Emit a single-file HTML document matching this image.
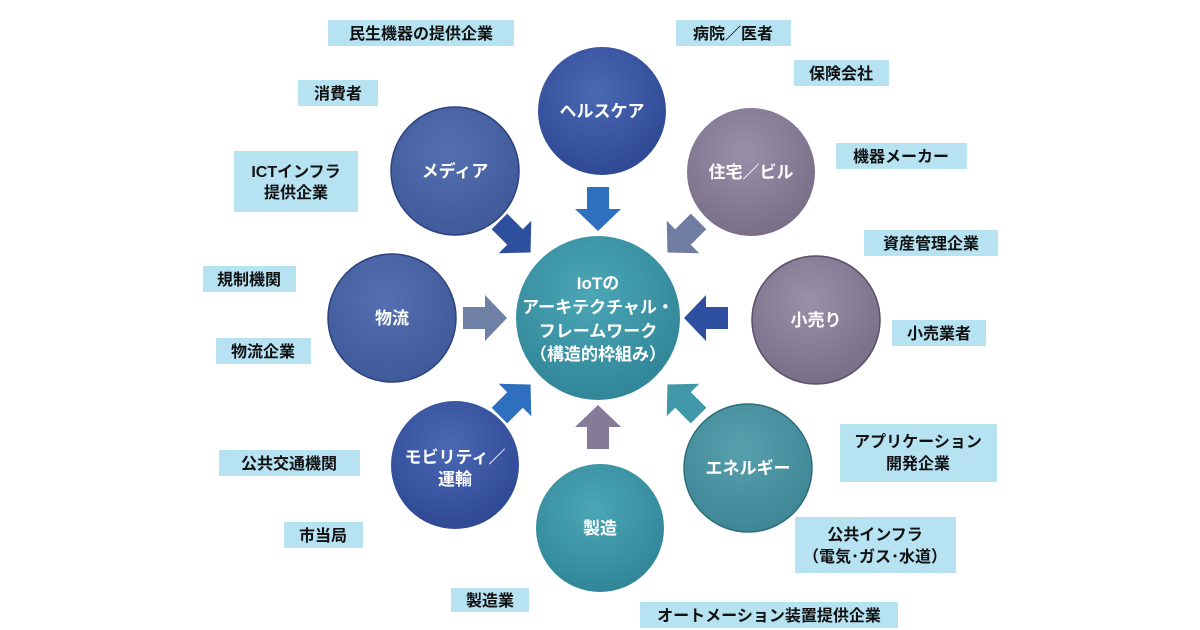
<!DOCTYPE html>
<html><head><meta charset="utf-8"><style>
html,body{margin:0;padding:0;background:#fff;}
svg{display:block;}
text{font-family:"Liberation Sans","Noto Sans CJK JP",sans-serif;font-weight:bold;}
.c{fill:#fff;font-size:17px;text-anchor:middle;}
.l{fill:#111;font-size:16px;text-anchor:middle;}
.b{fill:#b6e2f2;}
</style></head><body>
<svg width="1200" height="630" viewBox="0 0 1200 630">
<defs>
<radialGradient id="gB" cx="45%" cy="35%" r="70%"><stop offset="0" stop-color="#4a68b4"/><stop offset="1" stop-color="#2d4792"/></radialGradient>
<radialGradient id="gM" cx="45%" cy="35%" r="70%"><stop offset="0" stop-color="#5470b0"/><stop offset="1" stop-color="#3e5898"/></radialGradient>
<radialGradient id="gP" cx="45%" cy="35%" r="70%"><stop offset="0" stop-color="#9a90aa"/><stop offset="1" stop-color="#766c86"/></radialGradient>
<radialGradient id="gT" cx="45%" cy="35%" r="70%"><stop offset="0" stop-color="#4ba6b6"/><stop offset="1" stop-color="#2f8496"/></radialGradient>
<radialGradient id="gE" cx="45%" cy="35%" r="70%"><stop offset="0" stop-color="#58a0ae"/><stop offset="1" stop-color="#3d8594"/></radialGradient>
<path id="ar" d="M-11,-22 L11,-22 L11,0 L23,0 L0,22 L-23,0 L-11,0 Z"/>
</defs>
<circle cx="602" cy="111" r="64" fill="url(#gB)"/>
<circle cx="455" cy="171" r="64" fill="url(#gM)" stroke="#2d4280" stroke-width="1.5"/>
<circle cx="751" cy="172" r="64" fill="url(#gP)"/>
<circle cx="392" cy="318" r="64" fill="url(#gM)" stroke="#2d4280" stroke-width="1.5"/>
<circle cx="816" cy="320" r="64" fill="url(#gP)" stroke="#5a5068" stroke-width="1.5"/>
<circle cx="455" cy="465" r="64" fill="url(#gB)"/>
<circle cx="600" cy="528" r="64" fill="url(#gT)"/>
<circle cx="748" cy="468" r="64" fill="url(#gE)" stroke="#2e6e7a" stroke-width="1.5"/>
<circle cx="598" cy="318" r="82" fill="url(#gT)"/>
<use href="#ar" transform="translate(598,209)" fill="#2f6fc0"/>
<use href="#ar" transform="translate(598,427) rotate(180)" fill="#857a98"/>
<use href="#ar" transform="translate(485,318) rotate(-90)" fill="#6e80a6"/>
<use href="#ar" transform="translate(706,318) rotate(90)" fill="#2e4fa0"/>
<use href="#ar" transform="translate(515,237) rotate(-45)" fill="#2e4f9e"/>
<use href="#ar" transform="translate(683,237) rotate(45)" fill="#6f7ea0"/>
<use href="#ar" transform="translate(515,400) rotate(-135)" fill="#2f6fc0"/>
<use href="#ar" transform="translate(683,400) rotate(135)" fill="#3f97a8"/>
<text class="c" x="602" y="117">ヘルスケア</text>
<text class="c" x="455" y="177">メディア</text>
<text class="c" x="751" y="178">住宅／ビル</text>
<text class="c" x="392" y="324">物流</text>
<text class="c" x="816" y="326">小売り</text>
<text class="c" x="455" y="463">モビリティ／</text>
<text class="c" x="455" y="485">運輸</text>
<text class="c" x="600" y="534">製造</text>
<text class="c" x="748" y="474">エネルギー</text>
<text class="c" x="598" y="289" font-size="18">IoTの</text>
<text class="c" x="598" y="313" font-size="18">アーキテクチャル・</text>
<text class="c" x="598" y="337" font-size="18">フレームワーク</text>
<text class="c" x="598" y="360" font-size="18">（構造的枠組み）</text>
<rect class="b" x="328" y="20" width="186" height="26"/><text class="l" x="421" y="39">民生機器の提供企業</text>
<rect class="b" x="676" y="20" width="115" height="26"/><text class="l" x="733" y="39">病院／医者</text>
<rect class="b" x="794" y="60" width="95" height="26"/><text class="l" x="841" y="79">保険会社</text>
<rect class="b" x="298" y="80" width="80" height="26"/><text class="l" x="338" y="99">消費者</text>
<rect class="b" x="836" y="143" width="131" height="26"/><text class="l" x="901" y="162">機器メーカー</text>
<rect class="b" x="234" y="151" width="124" height="61"/><text class="l" x="296" y="177" font-size="18">ICTインフラ</text><text class="l" x="296" y="198">提供企業</text>
<rect class="b" x="864" y="230" width="134" height="26"/><text class="l" x="931" y="249">資産管理企業</text>
<rect class="b" x="203" y="266" width="93" height="26"/><text class="l" x="249" y="285">規制機関</text>
<rect class="b" x="892" y="320" width="94" height="26"/><text class="l" x="939" y="339">小売業者</text>
<rect class="b" x="216" y="338" width="95" height="26"/><text class="l" x="263" y="357">物流企業</text>
<rect class="b" x="840" y="424" width="157" height="58"/><text class="l" x="918" y="447">アプリケーション</text><text class="l" x="918" y="469">開発企業</text>
<rect class="b" x="219" y="450" width="141" height="26"/><text class="l" x="289" y="469">公共交通機関</text>
<rect class="b" x="284" y="522" width="79" height="26"/><text class="l" x="323" y="541">市当局</text>
<rect class="b" x="795" y="517" width="161" height="56"/><text class="l" x="875" y="540">公共インフラ</text><text class="l" x="875" y="562">（電気･ガス･水道）</text>
<rect class="b" x="451" y="588" width="78" height="24"/><text class="l" x="490" y="606">製造業</text>
<rect class="b" x="640" y="602" width="258" height="26"/><text class="l" x="769" y="621">オートメーション装置提供企業</text>
</svg>
</body></html>
